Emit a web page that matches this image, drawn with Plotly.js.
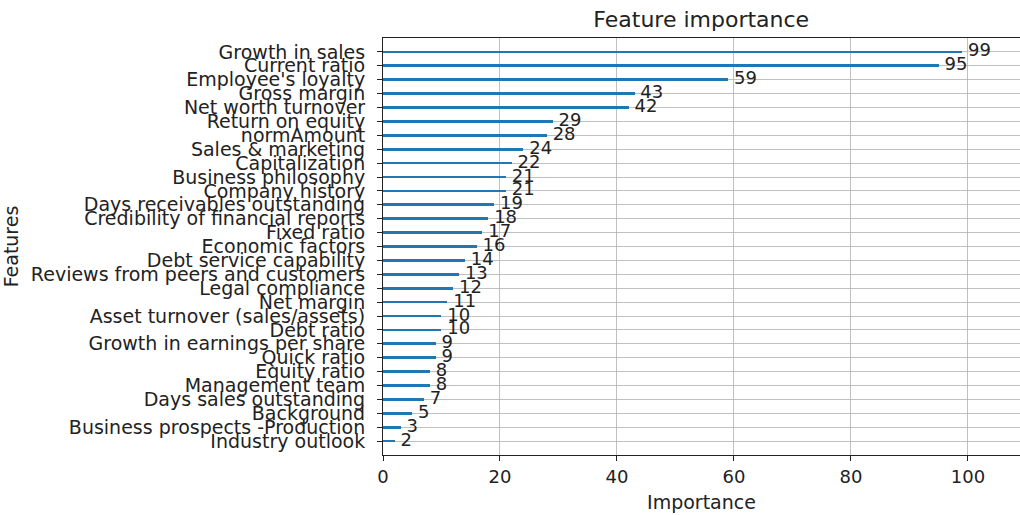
<!DOCTYPE html>
<html>
<head>
<meta charset="utf-8">
<script src="https://cdn.plot.ly/plotly-3.0.1.min.js"></script>
<style>html,body{margin:0;padding:0;background:#fff;}#chart{width:1020px;height:515px;}</style>
</head>
<body>
<div id="chart"></div>
<script>
// Features from top to bottom as displayed
const features = [
  "Growth in sales", "Current ratio", "Employee's loyalty", "Gross margin",
  "Net worth turnover", "Return on equity", "normAmount", "Sales & marketing",
  "Capitalization", "Business philosophy", "Company history",
  "Days receivables outstanding", "Credibility of financial reports",
  "Fixed ratio", "Economic factors", "Debt service capability",
  "Reviews from peers and customers", "Legal compliance", "Net margin",
  "Asset turnover (sales/assets)", "Debt ratio", "Growth in earnings per share",
  "Quick ratio", "Equity ratio", "Management team", "Days sales outstanding",
  "Background", "Business prospects -Production", "Industry outlook"
];
const importance = [99, 95, 59, 43, 42, 29, 28, 24, 22, 21, 21, 19, 18, 17, 16,
  14, 13, 12, 11, 10, 10, 9, 9, 8, 8, 7, 5, 3, 2];
const xTicks = [0, 20, 40, 60, 80, 100];

const n = features.length;
// position: top item gets highest index
const ypos = features.map((_, i) => n - 1 - i);
const maxVal = Math.max(...importance);

const font = "DejaVu Sans, sans-serif";
const ink = "#222";
const bars = {
  type: "bar", orientation: "h",
  x: importance, y: ypos, width: 0.2,
  marker: {color: "#1f77b4", line: {width: 0}},
  hoverinfo: "skip", showlegend: false
};
const labels = {
  type: "scatter", mode: "text",
  x: importance.map(v => v + 1), y: ypos,
  text: importance.map(String),
  textposition: "middle right",
  textfont: {family: font, size: 18, color: ink},
  hoverinfo: "skip", showlegend: false, cliponaxis: false
};

const layout = {
  width: 1020, height: 515,
  margin: {l: 383, r: 0, t: 38, b: 60},
  paper_bgcolor: "#fff", plot_bgcolor: "#fff",
  font: {family: font, size: 18, color: ink},
  title: {text: "Feature importance", x: 0.6875, xanchor: "center", y: 0.962, yanchor: "middle",
          font: {family: font, size: 22, color: ink}},
  xaxis: {
    range: [0, maxVal * 1.1], tickvals: xTicks, ticktext: xTicks.map(String),
    showgrid: true, gridcolor: "#b0b0b0", gridwidth: 0.8,
    showline: true, linecolor: ink, linewidth: 1, mirror: true,
    ticks: "outside", ticklen: 5, tickcolor: ink, zeroline: false,
    tickfont: {family: font, size: 18, color: ink},
    title: {text: "Importance", font: {family: font, size: 19, color: ink}, standoff: 10}
  },
  yaxis: {
    range: [-1, n], tickvals: ypos, ticktext: features,
    showgrid: true, gridcolor: "#b0b0b0", gridwidth: 0.8,
    showline: true, linecolor: ink, linewidth: 1,
    ticks: "outside", ticklen: 5, tickcolor: ink, zeroline: false,
    ticklabelstandoff: 8,
    tickfont: {family: font, size: 19, color: ink},
    title: {text: "Features", font: {family: font, size: 19, color: ink}, standoff: 8}
  },
  bargap: 0
};
Plotly.newPlot("chart", [bars, labels], layout, {displayModeBar: false, staticPlot: true});
</script>
</body>
</html>
